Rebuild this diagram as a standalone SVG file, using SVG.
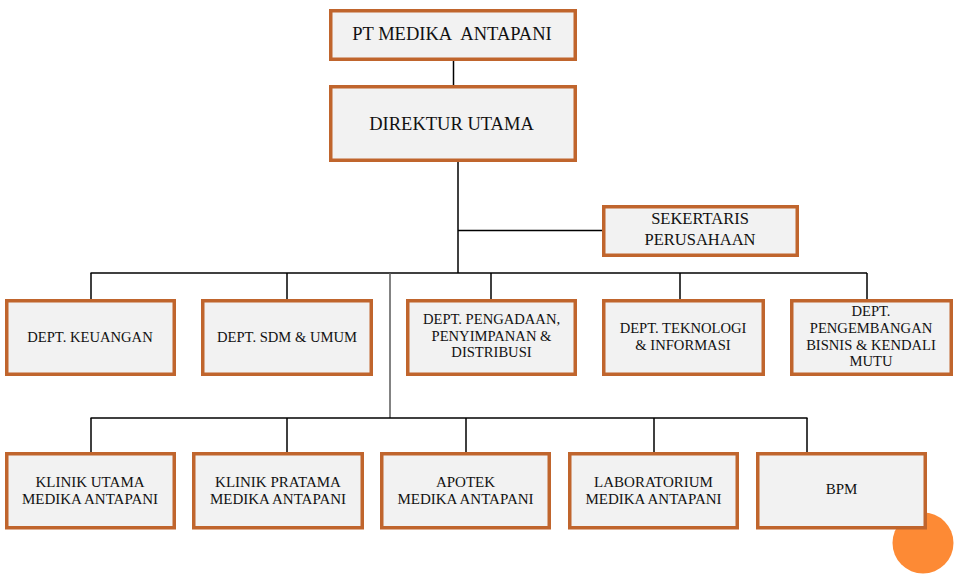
<svg xmlns="http://www.w3.org/2000/svg" width="957" height="579" viewBox="0 0 957 579">
<style>
.box{fill:#F2F2F2;stroke:#C0652D;stroke-width:3.5}
.ln{stroke:#000;stroke-width:1.5;fill:none}
.gl{stroke:#5a5a5a;stroke-width:1.5;fill:none}
text{font-family:"Liberation Serif","Times New Roman",serif;fill:#111;text-anchor:middle}
.t1{font-size:18.5px}
.t2{font-size:16.5px}
.t3{font-size:14.6px}
.t4{font-size:15px}
</style>
<rect width="957" height="579" fill="#fff"/>
<g id="connectors">
<line class="ln" x1="453.5" y1="61" x2="453.5" y2="85"/>
<line class="ln" x1="458" y1="162" x2="458" y2="273"/>
<line class="ln" x1="458" y1="230.5" x2="602" y2="230.5"/>
<line class="ln" x1="90.5" y1="273" x2="867" y2="273"/>
<line class="ln" x1="91" y1="273" x2="91" y2="299"/>
<line class="ln" x1="287" y1="273" x2="287" y2="299"/>
<line class="ln" x1="491" y1="273" x2="491" y2="299"/>
<line class="ln" x1="680" y1="273" x2="680" y2="299"/>
<line class="ln" x1="867" y1="273" x2="867" y2="299"/>
<line class="gl" x1="390" y1="273" x2="390" y2="418"/>
<line class="ln" x1="90.5" y1="418" x2="807.5" y2="418"/>
<line class="ln" x1="91" y1="418" x2="91" y2="452"/>
<line class="ln" x1="287" y1="418" x2="287" y2="452"/>
<line class="ln" x1="466" y1="418" x2="466" y2="452"/>
<line class="ln" x1="654" y1="418" x2="654" y2="452"/>
<line class="ln" x1="807" y1="418" x2="807" y2="452"/>
</g>
<circle id="deco" cx="923" cy="543" r="30.5" fill="#FD8A35"/>
<g id="pt">
<rect class="box" x="330.75" y="10.75" width="244.5" height="48.5"/>
<text class="t1" x="452" y="40">PT MEDIKA&#160; ANTAPANI</text>
</g>
<g id="direktur">
<rect class="box" x="330.75" y="86.75" width="244.5" height="73.5"/>
<text class="t1" x="451.5" y="130">DIREKTUR UTAMA</text>
</g>
<g id="sekertaris">
<rect class="box" x="603.75" y="206.75" width="193.5" height="48.5"/>
<text class="t2" x="700" y="224">SEKERTARIS</text>
<text class="t2" x="700" y="245">PERUSAHAAN</text>
</g>
<g id="keuangan">
<rect class="box" x="6.75" y="300.75" width="167.5" height="73.5"/>
<text class="t3" x="90" y="342">DEPT. KEUANGAN</text>
</g>
<g id="sdm">
<rect class="box" x="202.75" y="300.75" width="168.5" height="73.5"/>
<text class="t3" x="287" y="342">DEPT. SDM &amp; UMUM</text>
</g>
<g id="pengadaan">
<rect class="box" x="407.75" y="300.75" width="167.5" height="73.5"/>
<text class="t3" x="491.5" y="324">DEPT. PENGADAAN,</text>
<text class="t3" x="491.5" y="340.5">PENYIMPANAN &amp;</text>
<text class="t3" x="491.5" y="357">DISTRIBUSI</text>
</g>
<g id="teknologi">
<rect class="box" x="603.75" y="300.75" width="159.5" height="73.5"/>
<text class="t3" x="683" y="333">DEPT. TEKNOLOGI</text>
<text class="t3" x="683" y="349.5">&amp; INFORMASI</text>
</g>
<g id="pengembangan">
<rect class="box" x="791.75" y="300.75" width="159.5" height="73.5"/>
<text class="t3" x="871" y="316">DEPT.</text>
<text class="t3" x="871" y="333">PENGEMBANGAN</text>
<text class="t3" x="871" y="349.5">BISNIS &amp; KENDALI</text>
<text class="t3" x="871" y="366">MUTU</text>
</g>
<g id="klinik-utama">
<rect class="box" x="6.75" y="453.75" width="167.5" height="74"/>
<text class="t4" x="90" y="487">KLINIK UTAMA</text>
<text class="t4" x="90" y="504">MEDIKA ANTAPANI</text>
</g>
<g id="klinik-pratama">
<rect class="box" x="193.75" y="453.75" width="168.5" height="74"/>
<text class="t4" x="278" y="487">KLINIK PRATAMA</text>
<text class="t4" x="278" y="504">MEDIKA ANTAPANI</text>
</g>
<g id="apotek">
<rect class="box" x="381.75" y="453.75" width="167.5" height="74"/>
<text class="t4" x="465.5" y="487">APOTEK</text>
<text class="t4" x="465.5" y="504">MEDIKA ANTAPANI</text>
</g>
<g id="laboratorium">
<rect class="box" x="569.75" y="453.75" width="167.5" height="74"/>
<text class="t4" x="653.5" y="487">LABORATORIUM</text>
<text class="t4" x="653.5" y="504">MEDIKA ANTAPANI</text>
</g>
<g id="bpm">
<rect class="box" x="757.75" y="453.75" width="167.5" height="74"/>
<text class="t4" x="841.5" y="494">BPM</text>
</g>
</svg>
